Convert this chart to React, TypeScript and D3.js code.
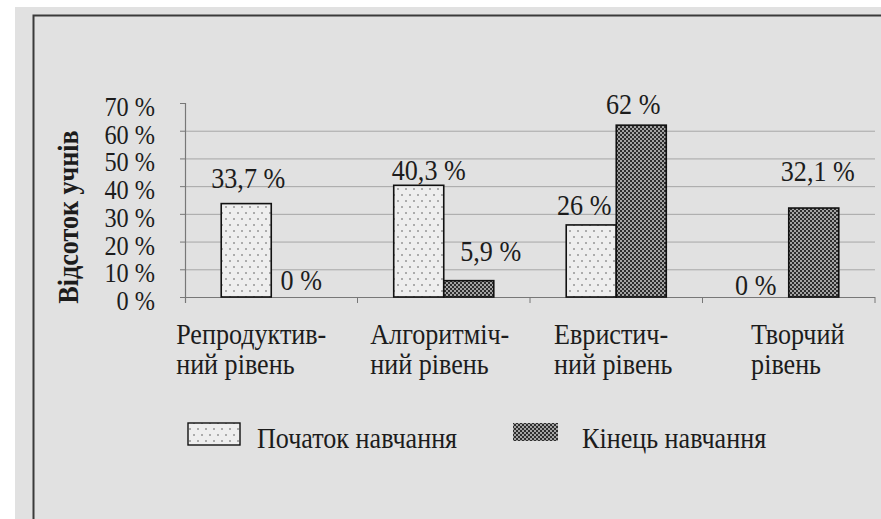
import { useEffect, useRef } from "react";
import * as d3 from "d3";

const CATEGORIES = ["Репродуктив-\nний рівень", "Алгоритміч-\nний рівень", "Евристич-\nний рівень", "Творчий\nрівень"];
const SERIES = [
  { key: "start", label: "Початок навчання" },
  { key: "end", label: "Кінець навчання" },
];
const START_VALUES = [33.7, 40.3, 26, 0];
const END_VALUES = [0, 5.9, 62, 32.1];
const Y_TICKS = [0, 10, 20, 30, 40, 50, 60, 70];
const Y_TITLE = "Відсоток учнів";

// hand nudges for the value labels, as laid out in the scanned original
const LABEL_NUDGE: Record<string, [number, number][]> = {
  start: [[2, -16], [10, -5], [-7, -10], [-8, -2]],
  end: [[5, -7], [22, -20], [-8, -11], [4, -27]],
};
const CAT_NUDGE = [-20, -4, -3, 9];

const fmt = (v: number) => `${String(v).replace(".", ",")} %`;
const FONT = "Liberation Serif, DejaVu Serif, serif";
const FS = 29;
const SQUEEZE = 0.9; // the scan's type is a narrow Times
const INK = "#1c1c1c";

// squeeze glyphs horizontally so the taller type keeps the original widths
function narrow(node: SVGTextContentElement) {
  const w = node.getComputedTextLength();
  node.setAttribute("textLength", String(w * SQUEEZE));
  node.setAttribute("lengthAdjust", "spacingAndGlyphs");
}

export default function App() {
  const ref = useRef<SVGSVGElement>(null);

  useEffect(() => {
    const el = ref.current;
    if (!el) return;
    const W = 881, H = 519;
    const svg = d3.select(el).attr("width", W).attr("height", H).attr("viewBox", `0 0 ${W} ${H}`);
    svg.selectAll("*").remove();

    const defs = svg.append("defs");
    const dots = defs.append("pattern").attr("id", "pStart").attr("patternUnits", "userSpaceOnUse")
      .attr("width", 8).attr("height", 12);
    dots.append("rect").attr("width", 8).attr("height", 12).attr("fill", "#eeeeee");
    dots.append("circle").attr("cx", 2).attr("cy", 3).attr("r", 0.8).attr("fill", "#555");
    dots.append("circle").attr("cx", 6).attr("cy", 9).attr("r", 0.8).attr("fill", "#555");
    const check = defs.append("pattern").attr("id", "pEnd").attr("patternUnits", "userSpaceOnUse")
      .attr("width", 4).attr("height", 4);
    check.append("rect").attr("width", 4).attr("height", 4).attr("fill", "#2e2e2e");
    check.append("rect").attr("x", 0).attr("y", 0).attr("width", 2).attr("height", 2).attr("fill", "#a4a4a4");
    check.append("rect").attr("x", 2).attr("y", 2).attr("width", 2).attr("height", 2).attr("fill", "#a4a4a4");
    const fillOf: Record<string, string> = { start: "url(#pStart)", end: "url(#pEnd)" };

    // scanned page + frame
    svg.append("rect").attr("width", W).attr("height", H).attr("fill", "#ffffff");
    svg.append("rect").attr("x", 15).attr("y", 7).attr("width", W - 15).attr("height", H - 7).attr("fill", "#e1e1e1");
    svg.append("path").attr("d", `M33.5,${H} V15.5 H${W}`).attr("fill", "none").attr("stroke", "#3a3a3a").attr("stroke-width", 2);

    const x = d3.scaleBand<string>().domain(CATEGORIES).range([185, 875]);
    const bw = x.bandwidth();
    const xi = d3.scaleBand<string>().domain(SERIES.map((s) => s.key)).range([bw * 0.21, bw * 0.79]);
    const y = d3.scaleLinear().domain([0, 70]).range([297, 103]);

    // grid + axes
    const grid = svg.append("g");
    grid.selectAll("line.grid").data(Y_TICKS.filter((t) => t > 0 && t < 70)).join("line")
      .attr("x1", 185).attr("x2", 875).attr("y1", (d) => y(d) + 0.5).attr("y2", (d) => y(d) + 0.5)
      .attr("stroke", "#a6a6a6").attr("stroke-width", 1);
    grid.selectAll("line.ytick").data(Y_TICKS).join("line")
      .attr("x1", 180).attr("x2", 185).attr("y1", (d) => y(d) + 0.5).attr("y2", (d) => y(d) + 0.5)
      .attr("stroke", "#777").attr("stroke-width", 1);
    grid.append("line").attr("x1", 185.5).attr("x2", 185.5).attr("y1", y(70)).attr("y2", y(0) + 6)
      .attr("stroke", "#777").attr("stroke-width", 1.2);
    grid.append("line").attr("x1", 185).attr("x2", 875).attr("y1", y(0) + 0.5).attr("y2", y(0) + 0.5)
      .attr("stroke", "#777").attr("stroke-width", 1.2);
    grid.selectAll("line.xtick").data(CATEGORIES).join("line")
      .attr("x1", (d) => (x(d) ?? 0) + bw).attr("x2", (d) => (x(d) ?? 0) + bw)
      .attr("y1", y(0)).attr("y2", y(0) + 6).attr("stroke", "#777").attr("stroke-width", 1);

    svg.append("g").selectAll("text").data(Y_TICKS).join("text")
      .attr("x", 155).attr("y", (d) => y(d) + 13).attr("text-anchor", "end")
      .attr("font-family", FONT).attr("font-size", 27).attr("fill", INK).text((d) => `${d} %`)
      .each(function () { narrow(this as SVGTextElement); });

    svg.append("text").attr("transform", `translate(78,${(y(0) + y(70)) / 2 + 17}) rotate(-90)`)
      .attr("text-anchor", "middle").attr("font-family", FONT).attr("font-size", FS).attr("font-weight", "bold")
      .attr("fill", INK).text(Y_TITLE)
      .each(function () { narrow(this as SVGTextElement); });

    // bars
    const rows = SERIES.flatMap((s) => {
      const vals = s.key === "start" ? START_VALUES : END_VALUES;
      return CATEGORIES.map((c, i) => ({ s: s.key, c, i, v: vals[i] }));
    });
    const bars = svg.append("g");
    bars.selectAll("rect").data(rows.filter((r) => r.v > 0)).join("rect")
      .attr("x", (d) => (x(d.c) ?? 0) + (xi(d.s) ?? 0)).attr("width", xi.bandwidth())
      .attr("y", (d) => y(d.v)).attr("height", (d) => y(0) - y(d.v))
      .attr("fill", (d) => fillOf[d.s]).attr("stroke", "#111").attr("stroke-width", 1.6);

    svg.append("g").selectAll("text").data(rows).join("text")
      .attr("x", (d) => (x(d.c) ?? 0) + (xi(d.s) ?? 0) + xi.bandwidth() / 2 + LABEL_NUDGE[d.s][d.i][0])
      .attr("y", (d) => y(d.v) + LABEL_NUDGE[d.s][d.i][1])
      .attr("text-anchor", "middle").attr("font-family", FONT).attr("font-size", FS).attr("fill", INK)
      .text((d) => fmt(d.v))
      .each(function () { narrow(this as SVGTextElement); });

    // category labels: left-aligned two-line blocks centred under each band
    const cats = svg.append("g");
    CATEGORIES.forEach((c, i) => {
      const t = cats.append("text").attr("font-family", FONT).attr("font-size", FS).attr("fill", INK);
      c.split("\n").forEach((line, k) => {
        const ts = t.append("tspan").attr("x", 0).attr("y", 344 + k * 30).text(line);
        narrow(ts.node() as SVGTSpanElement);
      });
      const w = (t.node() as SVGTextElement).getBBox().width;
      t.attr("transform", `translate(${(x(c) ?? 0) + bw / 2 - w / 2 + CAT_NUDGE[i]},0)`);
    });

    // legend
    const legend = [
      { key: "start", box: [188, 423, 52, 22], tx: 257 },
      { key: "end", box: [513, 423, 45, 18], tx: 582 },
    ];
    const lg = svg.append("g");
    legend.forEach((l) => {
      const s = SERIES.find((d) => d.key === l.key)!;
      lg.append("rect").attr("x", l.box[0]).attr("y", l.box[1]).attr("width", l.box[2]).attr("height", l.box[3])
        .attr("fill", fillOf[l.key]).attr("stroke", "#111").attr("stroke-width", l.key === "start" ? 1.4 : 0);
      const t = lg.append("text").attr("x", l.tx).attr("y", 448).attr("font-family", FONT).attr("font-size", FS)
        .attr("fill", INK).text(s.label);
      narrow(t.node() as SVGTextElement);
    });
  }, []);

  return <svg ref={ref} style={{ position: "absolute", left: 0, top: 0, display: "block" }} role="img" aria-label="Відсоток учнів" />;
}
